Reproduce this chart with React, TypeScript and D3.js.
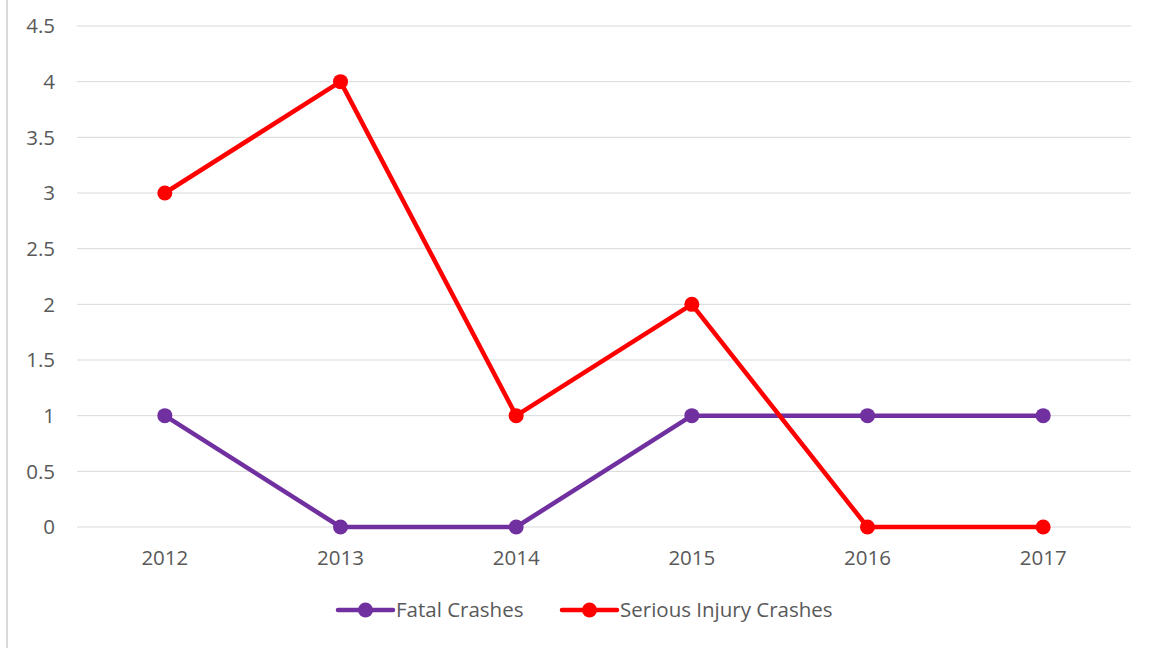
import React from "react";
import * as d3 from "d3";

const years = ["2012", "2013", "2014", "2015", "2016", "2017"];
const fatalCrashes = [1, 0, 0, 1, 1, 1];
const seriousInjuryCrashes = [3, 4, 1, 2, 0, 0];
const yTicks = [0, 0.5, 1, 1.5, 2, 2.5, 3, 3.5, 4, 4.5];

const series = [
  { name: "Fatal Crashes", values: fatalCrashes, color: "#7030A0" },
  { name: "Serious Injury Crashes", values: seriousInjuryCrashes, color: "#FF0000" },
];

const width = 1153;
const height = 648;
const plot = { left: 77, right: 1131, top: 26, bottom: 527 };
const font = "'Open Sans', sans-serif";
const fontSize = 20.5;

export default function App() {
  const x = d3
    .scalePoint()
    .domain(years)
    .range([plot.left, plot.right])
    .padding(0.5);
  const y = d3.scaleLinear().domain([0, 4.5]).range([plot.bottom, plot.top]);

  const line = d3
    .line<number>()
    .x((d, i) => x(years[i]) as number)
    .y((d) => y(d));

  // legend swatch positions (match the reference layout)
  const legendItems = [
    { ...series[0], x: 338 },
    { ...series[1], x: 562 },
  ];

  return (
    <svg
      width={width}
      height={height}
      style={{ position: "absolute", left: 0, top: 0, background: "#fff" }}
    >
      <line x1={7} x2={7} y1={0} y2={height} stroke="#d9d9d9" strokeWidth={2} />
      {yTicks.map((t) => (
        <g key={t}>
          <line
            x1={plot.left}
            x2={plot.right}
            y1={y(t)}
            y2={y(t)}
            stroke="#d9d9d9"
            strokeWidth={1}
          />
          <text
            x={55}
            y={y(t)}
            dy="0.35em"
            textAnchor="end"
            fontFamily={font}
            fontSize={fontSize}
            fill="#595959"
          >
            {t}
          </text>
        </g>
      ))}
      {years.map((yr) => (
        <text
          key={yr}
          x={x(yr)}
          y={558}
          dy="0.35em"
          textAnchor="middle"
          fontFamily={font}
          fontSize={fontSize}
          fill="#595959"
        >
          {yr}
        </text>
      ))}
      {series.map((s) => (
        <g key={s.name}>
          <path
            d={line(s.values) || ""}
            fill="none"
            stroke={s.color}
            strokeWidth={4.5}
            strokeLinejoin="round"
          />
          {s.values.map((v, i) => (
            <circle key={i} cx={x(years[i])} cy={y(v)} r={7.5} fill={s.color} />
          ))}
        </g>
      ))}
      {legendItems.map((s) => (
        <g key={s.name} transform={`translate(${s.x}, 610)`}>
          <line x1={0} x2={55} y1={0} y2={0} stroke={s.color} strokeWidth={4.5} strokeLinecap="round" />
          <circle cx={27.5} cy={0} r={7.5} fill={s.color} />
          <text
            x={58}
            y={0}
            dy="0.35em"
            fontFamily={font}
            fontSize={fontSize}
            fill="#595959"
          >
            {s.name}
          </text>
        </g>
      ))}
    </svg>
  );
}
